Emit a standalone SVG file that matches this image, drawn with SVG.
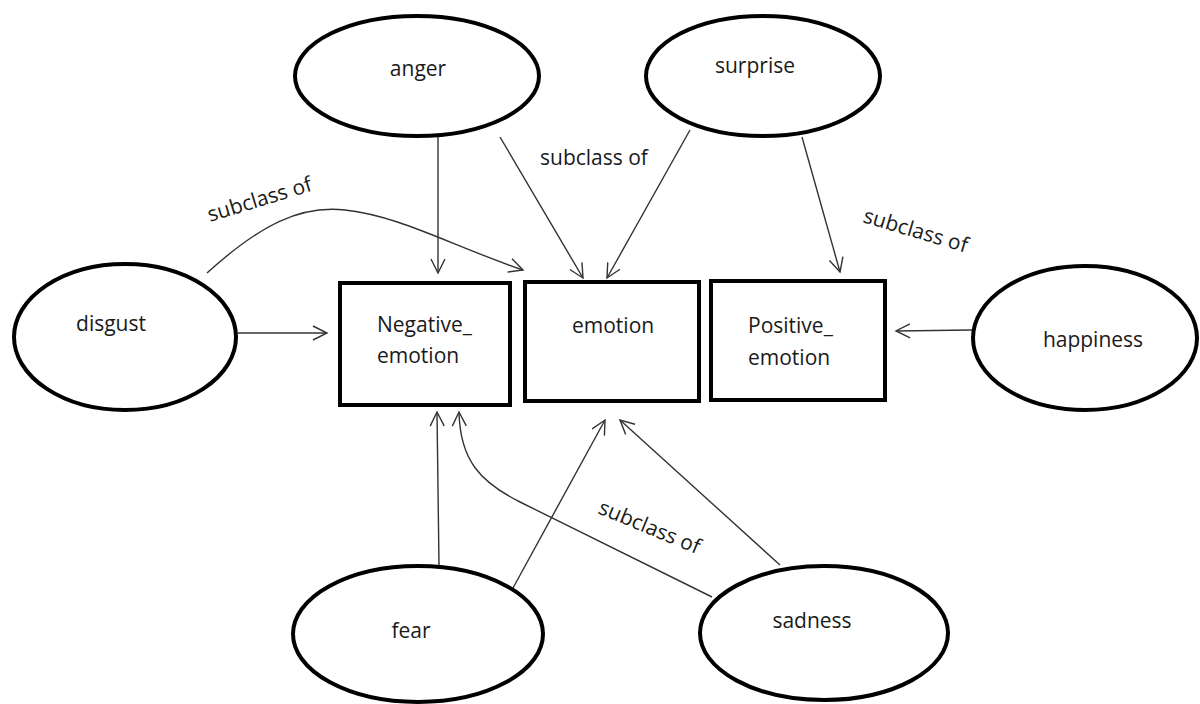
<svg xmlns="http://www.w3.org/2000/svg" width="1200" height="704" viewBox="0 0 1200 704">
<defs>
<style>
.node{fill:#fff;stroke:#000;stroke-width:4}
.lbl{font-family:"Open Sans","Liberation Sans",sans-serif;font-size:21px;fill:#1a1a1a}
.mid{text-anchor:middle}
.edge{fill:none;stroke:#333;stroke-width:1.4}
</style>
<marker id="arr" markerUnits="userSpaceOnUse" markerWidth="20" markerHeight="20" viewBox="-16 -10 20 20" refX="0" refY="0" orient="auto">
<path d="M-14,-7 L0,0 L-14,7" fill="none" stroke="#333" stroke-width="1.4"/>
</marker>
</defs>
<rect width="1200" height="704" fill="#fff"/>
<g id="connectors">
<path class="edge" marker-end="url(#arr)" d="M438,137 L438,273"/>
<path class="edge" marker-end="url(#arr)" d="M500,137 L583,278"/>
<path class="edge" marker-end="url(#arr)" d="M690,130 L607,278"/>
<path class="edge" marker-end="url(#arr)" d="M802,137 L840,272"/>
<path class="edge" marker-end="url(#arr)" d="M207,273 C260,225 300,205 345,210 C400,216 450,245 523,270"/>
<path class="edge" marker-end="url(#arr)" d="M238,333 L327,333"/>
<path class="edge" marker-end="url(#arr)" d="M972,330 L896,331"/>
<path class="edge" marker-end="url(#arr)" d="M439,565 L437,412"/>
<path class="edge" marker-end="url(#arr)" d="M513,588 L605,420"/>
<path class="edge" marker-end="url(#arr)" d="M780,565 L620,420"/>
<path class="edge" marker-end="url(#arr)" d="M712,597 L520,502 C480,482 460,460 459,412"/>
<text class="lbl" x="540" y="165">subclass of</text>
<text class="lbl" transform="translate(210,222) rotate(-17)">subclass of</text>
<text class="lbl" transform="translate(862,222) rotate(16.5)">subclass of</text>
<text class="lbl" transform="translate(597,513) rotate(22.5)">subclass of</text>
</g>
<g id="anger"><ellipse class="node" cx="417" cy="76" rx="122" ry="60"/><text class="lbl mid" x="418" y="76">anger</text></g>
<g id="surprise"><ellipse class="node" cx="763" cy="76" rx="117" ry="60"/><text class="lbl mid" x="755" y="73">surprise</text></g>
<g id="disgust"><ellipse class="node" cx="125" cy="337" rx="111" ry="73"/><text class="lbl mid" x="111" y="331">disgust</text></g>
<g id="happiness"><ellipse class="node" cx="1085" cy="338" rx="112" ry="72"/><text class="lbl mid" x="1093" y="347">happiness</text></g>
<g id="fear"><ellipse class="node" cx="418" cy="634" rx="125" ry="68"/><text class="lbl mid" x="411" y="638">fear</text></g>
<g id="sadness"><ellipse class="node" cx="824" cy="633" rx="124" ry="67"/><text class="lbl mid" x="812" y="628">sadness</text></g>
<g id="negative_emotion"><rect class="node" x="340" y="283" width="170" height="122"/><text class="lbl" x="377" y="332">Negative_</text><text class="lbl" x="377" y="363">emotion</text></g>
<g id="emotion"><rect class="node" x="525" y="282" width="174" height="119"/><text class="lbl" x="572" y="333">emotion</text></g>
<g id="positive_emotion"><rect class="node" x="711" y="281" width="174" height="119"/><text class="lbl" x="748" y="333">Positive_</text><text class="lbl" x="748" y="365">emotion</text></g>
</svg>
